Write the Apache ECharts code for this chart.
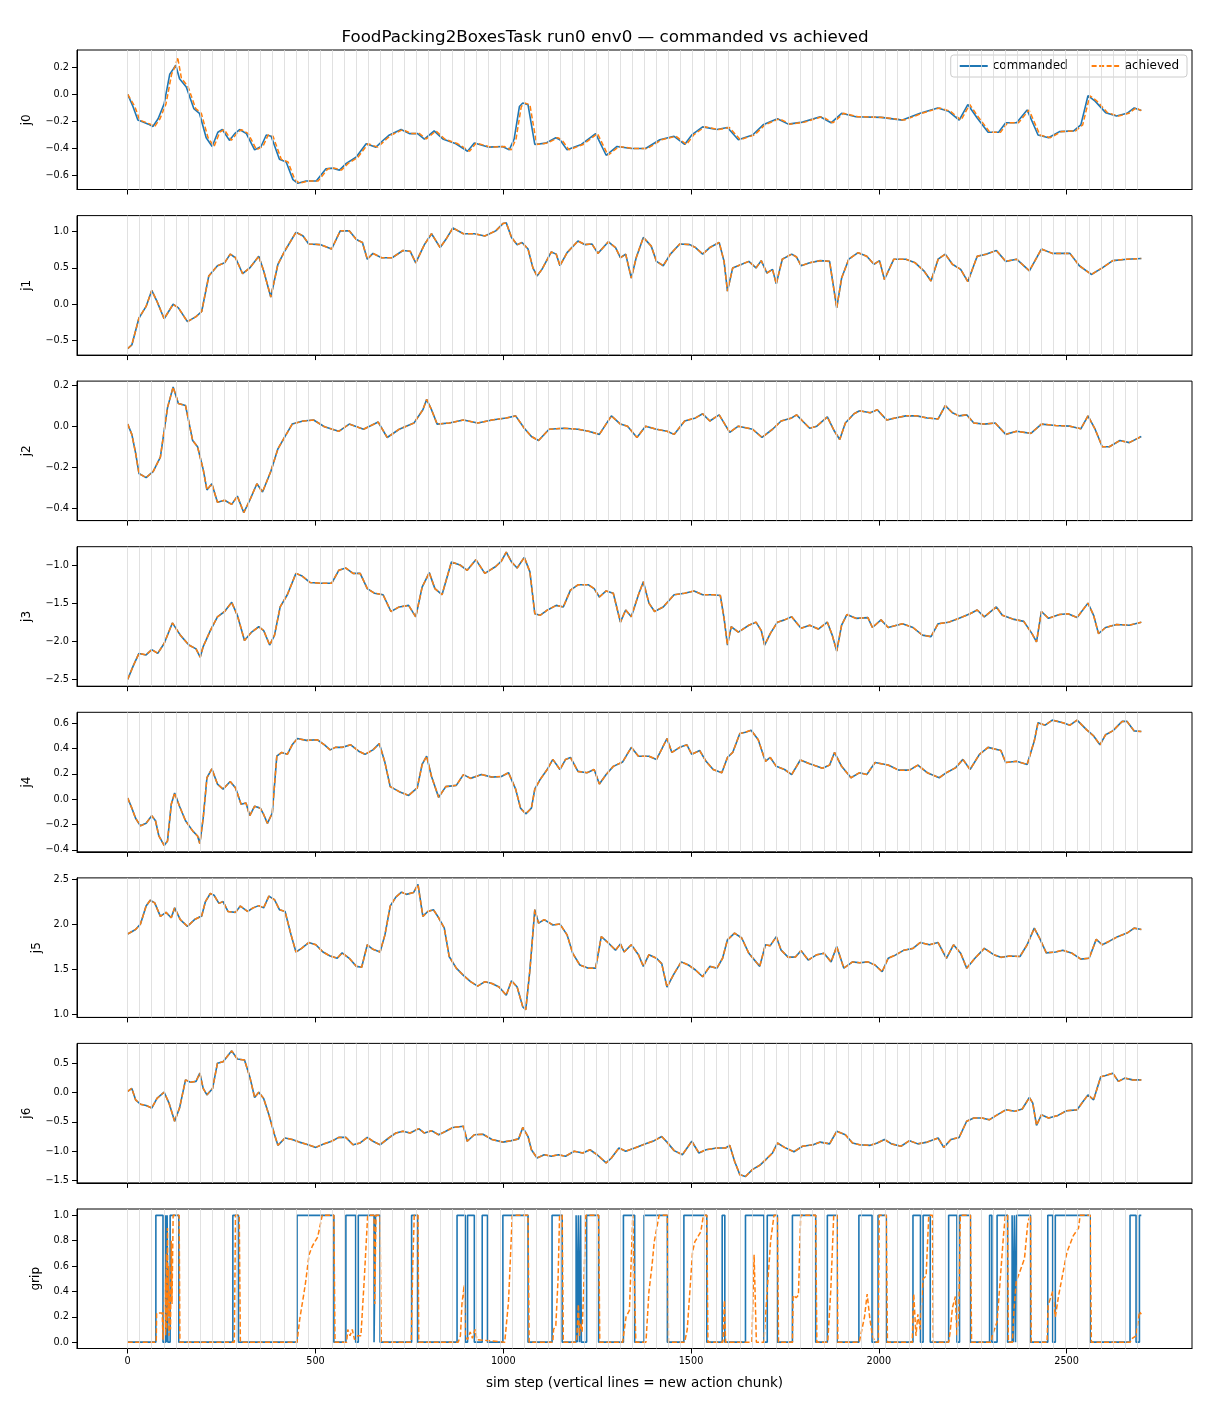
<!DOCTYPE html>
<html><head><meta charset="utf-8">
<script src="https://cdn.jsdelivr.net/npm/echarts@6/dist/echarts.min.js"></script>
<style>html,body{margin:0;padding:0;background:#fff}#c{width:1210px;height:1408px}</style>
</head><body><div id="c"></div>
<script>
const TITLE = 'FoodPacking2BoxesTask run0 env0 \u2014 commanded vs achieved';
const X_LABEL = 'sim step (vertical lines = new action chunk)';
const chunkStarts = [0,32,64,96,128,160,192,224,256,288,320,352,384,416,448,480,512,544,576,608,640,672,704,736,768,800,832,864,896,928,960,992,1024,1056,1088,1120,1152,1184,1216,1248,1280,1312,1344,1376,1408,1440,1472,1504,1536,1568,1600,1632,1664,1696,1728,1760,1792,1824,1856,1888,1920,1952,1984,2016,2048,2080,2112,2144,2176,2208,2240,2272,2304,2336,2368,2400,2432,2464,2496,2528,2560,2592,2624,2656,2688];
const xTicks = [0,500,1000,1500,2000,2500];
const j0Ticks = [-0.6,-0.4,-0.2,0,0.2];
const j1Ticks = [-0.5,0,0.5,1.0];
const j2Ticks = [-0.4,-0.2,0,0.2];
const j3Ticks = [-2.5,-2.0,-1.5,-1.0];
const j4Ticks = [-0.4,-0.2,0,0.2,0.4,0.6];
const j5Ticks = [1.0,1.5,2.0,2.5];
const j6Ticks = [-1.5,-1.0,-0.5,0,0.5];
const gripTicks = [0,0.2,0.4,0.6,0.8,1.0];

const j0Cmd = [[0,0.0],[14,-0.09],[27,-0.19],[41,-0.205],[55,-0.22],[67,-0.237],[81,-0.18],[97,-0.07],[112,0.15],[122,0.19],[128,0.215],[138,0.115],[156,0.055],[176,-0.105],[191,-0.14],[209,-0.32],[225,-0.385],[240,-0.28],[252,-0.26],[271,-0.34],[285,-0.29],[298,-0.26],[316,-0.29],[338,-0.41],[355,-0.385],[369,-0.30],[382,-0.31],[404,-0.48],[422,-0.50],[440,-0.63],[453,-0.657],[475,-0.64],[502,-0.64],[528,-0.55],[546,-0.545],[564,-0.56],[582,-0.51],[608,-0.465],[635,-0.365],[661,-0.39],[684,-0.33],[697,-0.30],[728,-0.26],[750,-0.29],[772,-0.29],[790,-0.33],[816,-0.27],[839,-0.33],[874,-0.365],[905,-0.42],[923,-0.36],[962,-0.39],[998,-0.385],[1016,-0.41],[1029,-0.33],[1043,-0.09],[1052,-0.064],[1066,-0.077],[1084,-0.37],[1113,-0.36],[1140,-0.32],[1151,-0.335],[1170,-0.41],[1208,-0.37],[1246,-0.29],[1274,-0.45],[1303,-0.385],[1341,-0.40],[1379,-0.40],[1417,-0.335],[1455,-0.31],[1483,-0.37],[1502,-0.30],[1531,-0.24],[1569,-0.26],[1597,-0.245],[1626,-0.335],[1664,-0.30],[1692,-0.225],[1730,-0.18],[1759,-0.22],[1797,-0.205],[1844,-0.165],[1873,-0.21],[1901,-0.14],[1939,-0.165],[2006,-0.17],[2063,-0.19],[2110,-0.14],[2157,-0.10],[2186,-0.125],[2214,-0.19],[2237,-0.075],[2262,-0.175],[2291,-0.28],[2319,-0.28],[2338,-0.21],[2367,-0.21],[2395,-0.115],[2424,-0.30],[2452,-0.32],[2481,-0.275],[2519,-0.27],[2538,-0.225],[2557,-0.01],[2576,-0.05],[2604,-0.135],[2633,-0.16],[2661,-0.14],[2680,-0.10],[2699,-0.12]];
const j0Ach = [[0,0.0],[5,0.0],[19,-0.09],[32,-0.19],[46,-0.205],[60,-0.22],[72,-0.237],[86,-0.18],[102,-0.07],[117,0.15],[127,0.21],[133,0.275],[143,0.12],[161,0.055],[181,-0.105],[196,-0.14],[214,-0.32],[230,-0.385],[245,-0.28],[257,-0.26],[276,-0.34],[290,-0.29],[303,-0.26],[321,-0.29],[343,-0.41],[360,-0.385],[374,-0.30],[387,-0.31],[409,-0.48],[427,-0.50],[445,-0.63],[458,-0.657],[480,-0.64],[507,-0.64],[533,-0.55],[551,-0.545],[569,-0.56],[587,-0.51],[613,-0.465],[640,-0.365],[666,-0.39],[689,-0.33],[702,-0.30],[733,-0.26],[755,-0.29],[777,-0.29],[795,-0.33],[821,-0.27],[844,-0.33],[879,-0.365],[910,-0.42],[928,-0.36],[967,-0.39],[1003,-0.385],[1021,-0.41],[1034,-0.33],[1048,-0.09],[1057,-0.064],[1071,-0.077],[1089,-0.37],[1118,-0.36],[1145,-0.32],[1156,-0.335],[1175,-0.41],[1213,-0.37],[1251,-0.29],[1279,-0.45],[1308,-0.385],[1346,-0.40],[1384,-0.40],[1422,-0.335],[1460,-0.31],[1488,-0.37],[1507,-0.30],[1536,-0.24],[1574,-0.26],[1602,-0.245],[1631,-0.335],[1669,-0.30],[1697,-0.225],[1735,-0.18],[1764,-0.22],[1802,-0.205],[1849,-0.165],[1878,-0.21],[1906,-0.14],[1944,-0.165],[2011,-0.17],[2068,-0.19],[2115,-0.14],[2162,-0.10],[2191,-0.125],[2219,-0.19],[2242,-0.075],[2267,-0.175],[2296,-0.28],[2324,-0.28],[2343,-0.21],[2372,-0.21],[2400,-0.115],[2429,-0.30],[2457,-0.32],[2486,-0.275],[2524,-0.27],[2543,-0.225],[2562,-0.01],[2581,-0.05],[2609,-0.135],[2638,-0.16],[2666,-0.14],[2685,-0.10],[2699,-0.12]];
const j1Cmd = [[0,-0.61],[11,-0.56],[30,-0.19],[49,-0.03],[64,0.19],[78,0.04],[97,-0.20],[121,0.0],[135,-0.05],[159,-0.24],[182,-0.17],[197,-0.10],[216,0.39],[239,0.53],[258,0.57],[273,0.69],[287,0.64],[306,0.42],[325,0.50],[349,0.66],[362,0.46],[381,0.10],[400,0.55],[419,0.74],[448,0.99],[467,0.94],[482,0.83],[514,0.82],[543,0.76],[566,1.01],[590,1.01],[609,0.89],[625,0.85],[638,0.62],[653,0.70],[676,0.64],[704,0.64],[733,0.74],[752,0.73],[767,0.57],[790,0.82],[809,0.97],[832,0.78],[847,0.89],[866,1.05],[894,0.97],[923,0.97],[951,0.94],[980,1.01],[999,1.11],[1008,1.12],[1022,0.92],[1037,0.82],[1050,0.85],[1066,0.76],[1079,0.50],[1090,0.39],[1103,0.48],[1128,0.72],[1141,0.69],[1151,0.53],[1170,0.71],[1199,0.87],[1218,0.82],[1236,0.83],[1252,0.70],[1280,0.86],[1299,0.78],[1312,0.64],[1326,0.69],[1341,0.36],[1354,0.64],[1373,0.92],[1394,0.80],[1408,0.59],[1426,0.53],[1445,0.69],[1470,0.83],[1497,0.82],[1512,0.78],[1531,0.69],[1550,0.78],[1575,0.85],[1588,0.59],[1597,0.18],[1611,0.50],[1635,0.55],[1654,0.59],[1673,0.50],[1687,0.60],[1702,0.43],[1717,0.48],[1727,0.28],[1743,0.62],[1768,0.69],[1781,0.65],[1793,0.53],[1816,0.57],[1844,0.60],[1869,0.59],[1888,-0.05],[1901,0.36],[1920,0.62],[1945,0.71],[1968,0.66],[1987,0.55],[2002,0.60],[2015,0.34],[2040,0.62],[2072,0.62],[2097,0.57],[2120,0.46],[2139,0.32],[2158,0.62],[2177,0.69],[2196,0.55],[2218,0.48],[2237,0.31],[2262,0.66],[2287,0.69],[2313,0.74],[2338,0.59],[2367,0.62],[2401,0.46],[2433,0.76],[2462,0.70],[2509,0.70],[2534,0.53],[2566,0.41],[2595,0.50],[2623,0.60],[2661,0.62],[2699,0.63]];
const j2Cmd = [[0,0.01],[11,-0.04],[21,-0.13],[30,-0.23],[49,-0.25],[68,-0.22],[87,-0.15],[106,0.09],[121,0.19],[135,0.11],[154,0.10],[173,-0.07],[186,-0.10],[201,-0.21],[211,-0.31],[224,-0.28],[239,-0.37],[258,-0.36],[277,-0.38],[292,-0.34],[309,-0.42],[325,-0.36],[344,-0.28],[359,-0.32],[381,-0.22],[400,-0.11],[419,-0.05],[438,0.01],[467,0.025],[495,0.03],[524,-0.003],[562,-0.025],[590,0.01],[628,-0.015],[667,0.02],[691,-0.055],[723,-0.015],[762,0.015],[786,0.08],[796,0.13],[809,0.08],[824,0.01],[856,0.015],[894,0.03],[932,0.015],[970,0.03],[1008,0.04],[1033,0.05],[1056,-0.01],[1075,-0.05],[1094,-0.07],[1122,-0.015],[1160,-0.01],[1199,-0.015],[1227,-0.025],[1256,-0.04],[1288,0.05],[1312,0.01],[1331,0.0],[1356,-0.055],[1379,0.0],[1408,-0.015],[1436,-0.025],[1455,-0.04],[1483,0.025],[1512,0.04],[1531,0.06],[1550,0.025],[1575,0.055],[1603,-0.03],[1626,0.0],[1664,-0.015],[1689,-0.055],[1717,-0.015],[1740,0.025],[1768,0.04],[1781,0.055],[1797,0.025],[1816,-0.01],[1835,0.0],[1863,0.045],[1882,-0.025],[1896,-0.065],[1911,0.015],[1934,0.06],[1949,0.075],[1977,0.065],[1996,0.08],[2021,0.03],[2044,0.04],[2072,0.05],[2101,0.05],[2129,0.04],[2158,0.035],[2177,0.10],[2196,0.065],[2214,0.05],[2234,0.055],[2253,0.015],[2281,0.01],[2310,0.015],[2338,-0.04],[2367,-0.025],[2405,-0.035],[2433,0.01],[2471,0.003],[2509,0.0],[2538,-0.013],[2557,0.05],[2576,-0.015],[2595,-0.10],[2614,-0.10],[2642,-0.07],[2667,-0.08],[2699,-0.05]];
const j3Cmd = [[0,-2.50],[15,-2.32],[30,-2.16],[49,-2.18],[64,-2.11],[80,-2.16],[97,-2.03],[119,-1.76],[140,-1.92],[163,-2.05],[182,-2.10],[193,-2.21],[201,-2.07],[220,-1.86],[239,-1.68],[258,-1.61],[277,-1.49],[292,-1.66],[311,-1.99],[330,-1.88],[349,-1.81],[362,-1.86],[378,-2.05],[391,-1.92],[406,-1.55],[425,-1.39],[448,-1.11],[463,-1.14],[486,-1.23],[514,-1.24],[543,-1.24],[562,-1.07],[581,-1.04],[600,-1.11],[619,-1.11],[638,-1.31],[657,-1.37],[680,-1.39],[701,-1.61],[723,-1.55],[748,-1.53],[767,-1.68],[784,-1.29],[803,-1.10],[818,-1.31],[837,-1.39],[862,-0.96],[885,-1.00],[904,-1.07],[927,-0.93],[951,-1.11],[980,-1.02],[995,-0.95],[1008,-0.83],[1022,-0.96],[1037,-1.04],[1056,-0.90],[1071,-1.09],[1084,-1.64],[1098,-1.66],[1118,-1.59],[1141,-1.53],[1160,-1.55],[1179,-1.33],[1199,-1.26],[1227,-1.26],[1242,-1.31],[1256,-1.42],[1274,-1.34],[1293,-1.37],[1312,-1.75],[1326,-1.59],[1341,-1.68],[1360,-1.39],[1373,-1.22],[1388,-1.50],[1403,-1.61],[1426,-1.55],[1455,-1.39],[1483,-1.37],[1508,-1.34],[1531,-1.39],[1559,-1.39],[1578,-1.40],[1588,-1.70],[1597,-2.05],[1607,-1.81],[1626,-1.88],[1654,-1.79],[1673,-1.75],[1687,-1.86],[1696,-2.05],[1711,-1.90],[1730,-1.75],[1749,-1.72],[1768,-1.68],[1793,-1.83],[1816,-1.79],[1839,-1.84],[1863,-1.75],[1876,-1.92],[1888,-2.13],[1901,-1.79],[1915,-1.65],[1939,-1.70],[1971,-1.69],[1983,-1.82],[2006,-1.72],[2025,-1.82],[2063,-1.77],[2091,-1.82],[2116,-1.92],[2139,-1.94],[2158,-1.77],[2186,-1.75],[2214,-1.70],[2243,-1.64],[2262,-1.59],[2281,-1.68],[2313,-1.55],[2329,-1.66],[2357,-1.71],[2386,-1.74],[2408,-1.90],[2420,-2.01],[2433,-1.61],[2452,-1.70],[2481,-1.65],[2504,-1.64],[2528,-1.69],[2557,-1.50],[2572,-1.66],[2585,-1.90],[2604,-1.82],[2633,-1.78],[2667,-1.79],[2699,-1.75]];
const j4Cmd = [[0,0.01],[11,-0.07],[21,-0.15],[34,-0.21],[49,-0.19],[64,-0.13],[74,-0.17],[83,-0.29],[97,-0.365],[106,-0.33],[116,-0.04],[125,0.05],[138,-0.055],[154,-0.17],[173,-0.25],[186,-0.29],[192,-0.35],[201,-0.15],[211,0.17],[224,0.24],[239,0.12],[254,0.08],[273,0.14],[287,0.09],[302,-0.04],[315,-0.03],[325,-0.13],[338,-0.055],[353,-0.07],[362,-0.12],[372,-0.19],[385,-0.11],[397,0.34],[410,0.37],[425,0.355],[438,0.43],[452,0.48],[476,0.465],[505,0.47],[524,0.43],[539,0.39],[553,0.41],[571,0.41],[594,0.43],[615,0.38],[632,0.355],[653,0.39],[670,0.44],[685,0.29],[699,0.10],[723,0.06],[748,0.03],[771,0.09],[784,0.275],[796,0.34],[809,0.18],[828,0.015],[847,0.10],[875,0.11],[894,0.195],[913,0.165],[942,0.195],[970,0.175],[995,0.18],[1014,0.21],[1033,0.08],[1046,-0.07],[1060,-0.115],[1075,-0.07],[1084,0.08],[1098,0.155],[1117,0.235],[1132,0.315],[1151,0.235],[1166,0.315],[1179,0.33],[1199,0.22],[1223,0.21],[1242,0.235],[1256,0.12],[1274,0.195],[1293,0.26],[1318,0.295],[1341,0.41],[1360,0.34],[1388,0.34],[1408,0.315],[1421,0.39],[1436,0.48],[1449,0.37],[1470,0.41],[1489,0.43],[1502,0.355],[1523,0.385],[1540,0.30],[1559,0.235],[1582,0.21],[1597,0.33],[1611,0.37],[1630,0.52],[1645,0.53],[1660,0.545],[1679,0.47],[1698,0.30],[1711,0.33],[1727,0.26],[1749,0.235],[1768,0.195],[1791,0.31],[1816,0.28],[1850,0.245],[1869,0.27],[1882,0.37],[1901,0.26],[1926,0.17],[1949,0.21],[1968,0.195],[1990,0.29],[2025,0.27],[2053,0.23],[2082,0.23],[2104,0.27],[2129,0.21],[2161,0.17],[2180,0.21],[2205,0.25],[2224,0.315],[2243,0.235],[2268,0.355],[2291,0.41],[2325,0.385],[2338,0.29],[2367,0.30],[2395,0.275],[2414,0.46],[2424,0.605],[2443,0.585],[2462,0.625],[2490,0.605],[2509,0.585],[2528,0.625],[2553,0.55],[2572,0.50],[2589,0.43],[2604,0.51],[2623,0.54],[2648,0.615],[2661,0.615],[2680,0.54],[2699,0.535]];
const j5Cmd = [[0,1.89],[21,1.94],[34,2.00],[49,2.20],[60,2.265],[72,2.235],[87,2.085],[102,2.13],[116,2.07],[125,2.18],[140,2.05],[159,1.975],[178,2.05],[197,2.09],[207,2.25],[220,2.34],[230,2.32],[243,2.23],[254,2.25],[267,2.14],[287,2.13],[300,2.20],[319,2.14],[334,2.18],[349,2.205],[362,2.18],[376,2.31],[391,2.27],[404,2.16],[419,2.14],[435,1.88],[448,1.69],[463,1.73],[482,1.795],[501,1.77],[520,1.69],[539,1.645],[558,1.62],[571,1.68],[590,1.62],[609,1.53],[623,1.52],[638,1.77],[653,1.72],[672,1.69],[685,1.88],[699,2.20],[714,2.30],[729,2.355],[742,2.33],[761,2.35],[773,2.44],[786,2.085],[799,2.14],[814,2.16],[828,2.07],[843,1.955],[856,1.64],[875,1.51],[894,1.43],[913,1.36],[932,1.31],[951,1.36],[970,1.34],[989,1.30],[1008,1.21],[1022,1.37],[1037,1.30],[1052,1.08],[1060,1.05],[1071,1.49],[1084,2.16],[1094,2.01],[1109,2.05],[1132,1.99],[1151,2.00],[1170,1.88],[1185,1.675],[1204,1.545],[1227,1.51],[1246,1.51],[1261,1.86],[1280,1.79],[1299,1.71],[1312,1.78],[1322,1.69],[1341,1.77],[1360,1.66],[1373,1.53],[1388,1.66],[1408,1.62],[1422,1.56],[1436,1.30],[1455,1.45],[1474,1.58],[1493,1.545],[1512,1.49],[1531,1.415],[1550,1.53],[1569,1.51],[1584,1.62],[1597,1.825],[1616,1.90],[1635,1.845],[1654,1.675],[1673,1.58],[1683,1.53],[1698,1.77],[1711,1.76],[1727,1.86],[1740,1.71],[1759,1.63],[1778,1.635],[1793,1.705],[1812,1.60],[1835,1.66],[1854,1.675],[1873,1.58],[1888,1.75],[1907,1.51],[1930,1.58],[1949,1.57],[1971,1.58],[1990,1.545],[2009,1.47],[2025,1.62],[2044,1.655],[2067,1.71],[2091,1.73],[2110,1.795],[2135,1.77],[2158,1.795],[2180,1.62],[2199,1.77],[2218,1.675],[2234,1.51],[2256,1.62],[2281,1.73],[2306,1.66],[2325,1.63],[2348,1.645],[2376,1.64],[2395,1.77],[2414,1.955],[2428,1.845],[2446,1.68],[2471,1.69],[2490,1.71],[2515,1.675],[2538,1.61],[2560,1.62],[2579,1.83],[2595,1.77],[2614,1.81],[2636,1.86],[2661,1.90],[2680,1.955],[2699,1.94]];
const j6Cmd = [[0,0.02],[11,0.07],[21,-0.125],[34,-0.20],[49,-0.22],[64,-0.265],[78,-0.10],[97,0.005],[110,-0.18],[125,-0.49],[138,-0.265],[154,0.215],[167,0.175],[182,0.19],[192,0.33],[201,0.07],[211,-0.04],[226,0.07],[239,0.50],[254,0.525],[267,0.63],[277,0.71],[292,0.57],[311,0.555],[325,0.27],[338,-0.085],[349,0.005],[362,-0.10],[376,-0.38],[391,-0.72],[400,-0.90],[419,-0.775],[438,-0.80],[457,-0.845],[476,-0.88],[501,-0.935],[520,-0.88],[543,-0.83],[562,-0.765],[581,-0.765],[600,-0.89],[619,-0.86],[638,-0.765],[653,-0.83],[672,-0.89],[695,-0.775],[714,-0.69],[733,-0.66],[752,-0.69],[775,-0.615],[790,-0.69],[809,-0.65],[828,-0.72],[847,-0.66],[866,-0.595],[894,-0.575],[904,-0.83],[923,-0.72],[946,-0.71],[970,-0.80],[999,-0.845],[1022,-0.82],[1041,-0.79],[1052,-0.595],[1066,-0.75],[1075,-0.975],[1090,-1.115],[1109,-1.06],[1128,-1.085],[1147,-1.06],[1166,-1.085],[1189,-1.00],[1212,-1.03],[1231,-0.975],[1250,-1.06],[1274,-1.20],[1288,-1.115],[1308,-0.945],[1326,-1.00],[1350,-0.945],[1379,-0.875],[1402,-0.82],[1422,-0.75],[1436,-0.845],[1455,-0.99],[1477,-1.06],[1502,-0.83],[1521,-1.03],[1540,-0.975],[1569,-0.945],[1592,-0.945],[1603,-0.90],[1616,-1.17],[1630,-1.40],[1645,-1.43],[1664,-1.31],[1683,-1.24],[1702,-1.125],[1717,-1.03],[1730,-0.86],[1749,-0.935],[1774,-1.01],[1797,-0.915],[1825,-0.89],[1844,-0.845],[1869,-0.875],[1888,-0.66],[1911,-0.72],[1930,-0.86],[1949,-0.89],[1977,-0.90],[1996,-0.86],[2015,-0.80],[2034,-0.875],[2059,-0.915],[2082,-0.82],[2104,-0.875],[2129,-0.845],[2158,-0.775],[2173,-0.935],[2192,-0.80],[2214,-0.765],[2234,-0.49],[2253,-0.435],[2275,-0.435],[2294,-0.465],[2313,-0.39],[2338,-0.295],[2363,-0.32],[2382,-0.28],[2401,-0.085],[2410,-0.18],[2420,-0.56],[2433,-0.38],[2452,-0.435],[2477,-0.39],[2500,-0.31],[2528,-0.295],[2541,-0.18],[2557,-0.04],[2572,-0.125],[2591,0.27],[2604,0.29],[2623,0.33],[2638,0.19],[2655,0.245],[2676,0.215],[2699,0.215]];
const gripCmd = [[0,0],[75,0],[75,1],[94,1],[94,0],[101,0],[101,1],[103,1],[103,0],[105,0],[105,1],[107,1],[107,0],[113,0],[113,1],[136,1],[136,0],[280,0],[280,1],[295,1],[295,0],[451,0],[451,1],[549,1],[549,0],[581,0],[581,1],[607,1],[607,0],[614,0],[614,1],[656,1],[656,0],[660,0],[660,1],[672,1],[672,0],[756,0],[756,1],[772,1],[772,0],[877,0],[877,1],[899,1],[899,0],[905,0],[905,1],[923,1],[923,0],[944,0],[944,1],[958,1],[958,0],[999,0],[999,1],[1066,1],[1066,0],[1130,0],[1130,1],[1157,1],[1157,0],[1194,0],[1194,1],[1197,1],[1197,0],[1200,0],[1200,1],[1203,1],[1203,0],[1206,0],[1206,1],[1208,1],[1208,0],[1222,0],[1222,1],[1254,1],[1254,0],[1320,0],[1320,1],[1350,1],[1350,0],[1375,0],[1375,1],[1437,1],[1437,0],[1481,0],[1481,1],[1542,1],[1542,0],[1583,0],[1583,1],[1590,1],[1590,0],[1645,0],[1645,1],[1694,1],[1694,0],[1703,0],[1703,1],[1730,1],[1730,0],[1770,0],[1770,1],[1832,1],[1832,0],[1863,0],[1863,1],[1889,1],[1889,0],[1947,0],[1947,1],[1982,1],[1982,0],[1998,0],[1998,1],[2020,1],[2020,0],[2091,0],[2091,1],[2111,1],[2111,0],[2118,0],[2118,1],[2137,1],[2137,0],[2186,0],[2186,1],[2208,1],[2208,0],[2215,0],[2215,1],[2244,1],[2244,0],[2295,0],[2295,1],[2301,1],[2301,0],[2315,0],[2315,1],[2343,1],[2343,0],[2355,0],[2355,1],[2358,1],[2358,0],[2361,0],[2361,1],[2364,1],[2364,0],[2367,0],[2367,1],[2404,1],[2404,0],[2450,0],[2450,1],[2463,1],[2463,0],[2470,0],[2470,1],[2563,1],[2563,0],[2669,0],[2669,1],[2685,1],[2685,0],[2694,0],[2694,1],[2699,1]];
const gripAch = [[0,0],[76,0],[77,0.23],[92,0.23],[94,0.02],[98,0.02],[100,0.5],[101,0.05],[103,0.7],[104,0.1],[106,0.9],[107,0.2],[109,0.6],[110,0.05],[112,0.4],[114,0.1],[116,0.8],[118,0.3],[121,1],[137,1],[139,0],[284,0],[287,1],[297,1],[300,0],[451,0],[458,0.18],[469,0.38],[474,0.48],[483,0.69],[492,0.76],[506,0.83],[518,1],[549,1],[552,0],[583,0],[586,0.1],[592,0.05],[598,0.1],[604,0.02],[612,0.05],[621,0.05],[630,0.5],[639,1],[656,1],[658,0.3],[661,1],[672,1],[675,0],[755,0],[759,0.6],[763,1],[773,1],[775,0],[880,0],[886,0.05],[890,0.3],[896,0.45],[899,0.05],[905,0.02],[912,0.08],[918,0.03],[925,0.1],[930,0.02],[1004,0],[1014,0.32],[1024,1],[1066,1],[1069,0],[1132,0],[1134,0.1],[1140,0.13],[1146,0.5],[1150,1],[1157,1],[1160,0],[1195,0],[1197,0.1],[1200,0.3],[1203,0.05],[1206,0.15],[1210,0.08],[1214,0.4],[1220,1],[1254,1],[1257,0],[1318,0],[1327,0.2],[1336,0.25],[1345,1],[1350,1],[1353,0],[1380,0],[1388,0.4],[1396,0.6],[1402,0.79],[1415,1],[1437,1],[1440,0],[1483,0],[1490,0.1],[1504,0.71],[1510,0.79],[1526,0.87],[1533,1],[1542,1],[1545,0],[1585,0],[1589,0.33],[1592,0],[1662,0],[1668,0.69],[1674,0],[1694,0],[1705,0.5],[1712,0.8],[1721,1],[1730,1],[1733,0],[1770,0],[1772,0.37],[1780,0.35],[1786,0.37],[1792,1],[1832,1],[1835,0],[1864,0],[1872,0.4],[1880,1],[1889,1],[1891,0],[1948,0],[1955,0.1],[1962,0.2],[1969,0.38],[1976,0.19],[1983,0.05],[1990,0],[1999,0],[2001,1],[2020,1],[2023,0],[2089,0],[2093,0.38],[2099,0.05],[2104,0.22],[2110,0.1],[2118,0.5],[2126,0.52],[2133,1],[2143,1],[2145,0],[2186,0],[2190,0.08],[2196,0.27],[2204,0.36],[2208,0.05],[2213,0.22],[2217,1],[2244,1],[2247,0],[2299,0],[2302,0.05],[2315,0.16],[2332,0.84],[2337,1],[2343,1],[2345,0],[2356,0],[2360,0.26],[2366,0.48],[2375,0.55],[2388,0.66],[2397,0.95],[2404,1],[2406,0],[2448,0],[2451,0.29],[2463,0.4],[2470,0.2],[2479,0.37],[2501,0.71],[2518,0.84],[2532,0.9],[2536,1],[2563,1],[2566,0],[2669,0],[2675,0.03],[2685,0.05],[2694,0.24],[2699,0.22]];

const FONT = '"DejaVu Sans", sans-serif';
const BLUE = '#1f77b4', ORANGE = '#ff7f0e';
const panels = [
  {name:'j0', cmd:j0Cmd, ach:j0Ach, ticks:j0Ticks, min:-0.703, max:0.328, gap:44},
  {name:'j1', cmd:j1Cmd, ach:j1Cmd, ticks:j1Ticks, min:-0.70, max:1.22, gap:44},
  {name:'j2', cmd:j2Cmd, ach:j2Cmd, ticks:j2Ticks, min:-0.459, max:0.219, gap:44},
  {name:'j3', cmd:j3Cmd, ach:j3Cmd, ticks:j3Ticks, min:-2.59, max:-0.76, gap:44},
  {name:'j4', cmd:j4Cmd, ach:j4Cmd, ticks:j4Ticks, min:-0.415, max:0.687, gap:44},
  {name:'j5', cmd:j5Cmd, ach:j5Cmd, ticks:j5Ticks, min:0.963, max:2.513, gap:34},
  {name:'j6', cmd:j6Cmd, ach:j6Cmd, ticks:j6Ticks, min:-1.54, max:0.837, gap:44},
  {name:'grip', cmd:gripCmd, ach:gripAch, ticks:gripTicks, min:-0.05, max:1.05, gap:35}
];
const tops = [50,215.6,381.1,546.7,712.3,877.9,1043.4,1209];
const fmt = v => (Math.abs(v) < 1e-9 ? 0 : v).toFixed(1).replace('-', '\u2212');
const grids = [], xAxes = [], yAxes = [], series = [];
panels.forEach((p, i) => {
  const last = i === panels.length - 1;
  grids.push({left:77, width:1115, top:tops[i], height:139.5, show:true, borderColor:'#000', borderWidth:1, backgroundColor:'rgba(0,0,0,0)'});
  xAxes.push({type:'value', gridIndex:i, min:-135, max:2834,
    axisLine:{show:true, onZero:false, lineStyle:{color:'#000', width:1}},
    axisTick:{show:true, length:5, lineStyle:{color:'#000', width:1}, customValues:xTicks},
    axisLabel:{show:last, customValues:xTicks, margin:8, color:'#000', fontSize:9.7, fontFamily:FONT, formatter:v=>String(v)},
    splitLine:{show:false},
    name: last ? X_LABEL : '', nameLocation:'middle', nameGap:28,
    nameTextStyle:{color:'#000', fontSize:13.5, fontFamily:FONT}});
  yAxes.push({type:'value', gridIndex:i, min:p.min, max:p.max,
    axisLine:{show:true, onZero:false, lineStyle:{color:'#000', width:1}},
    axisTick:{show:true, length:5, lineStyle:{color:'#000', width:1}, customValues:p.ticks},
    axisLabel:{customValues:p.ticks, margin:8, color:'#000', fontSize:9.7, fontFamily:FONT, formatter:fmt},
    splitLine:{show:false},
    name:p.name, nameLocation:'middle', nameGap:p.gap, nameRotate:90,
    nameTextStyle:{color:'#000', fontSize:12, fontFamily:FONT}});
  series.push({type:'line', xAxisIndex:i, yAxisIndex:i, data:[], silent:true, z:1, animation:false,
    markLine:{silent:true, animation:false, symbol:['none','none'], label:{show:false},
      lineStyle:{color:'#d9d9d9', width:0.8, type:'solid'},
      emphasis:{disabled:true},
      data: chunkStarts.map(v => ({xAxis:v}))}});
  series.push({name:'commanded', type:'line', xAxisIndex:i, yAxisIndex:i, data:p.cmd, symbol:'none', showSymbol:false,
    lineStyle:{color:BLUE, width:1.6}, itemStyle:{color:BLUE}, z:2, animation:false, silent:true});
  series.push({name:'achieved', type:'line', xAxisIndex:i, yAxisIndex:i, data:p.ach, symbol:'none', showSymbol:false,
    lineStyle:{color:ORANGE, width:1.5, type:[5,2.5]}, itemStyle:{color:ORANGE}, z:3, animation:false, silent:true});
});
const chart = echarts.init(document.getElementById('c'), null, {renderer:'canvas'});
chart.setOption({
  animation:false,
  backgroundColor:'#fff',
  title:{text:TITLE, left:'center', top:29, padding:0, textStyle:{fontSize:16.7, fontWeight:'normal', color:'#000', fontFamily:FONT}},
  legend:{data:['commanded','achieved'], right:23, top:55, orient:'horizontal', itemWidth:28, itemHeight:12, itemGap:23,
    padding:[5,8], borderColor:'#cccccc', borderWidth:1, borderRadius:3, backgroundColor:'rgba(255,255,255,0.8)',
    itemStyle:{color:'rgba(0,0,0,0)', borderWidth:0, opacity:0},
    textStyle:{fontSize:12, color:'#000', fontFamily:FONT}},
  grid:grids, xAxis:xAxes, yAxis:yAxes, series:series
});
</script>
</body></html>
